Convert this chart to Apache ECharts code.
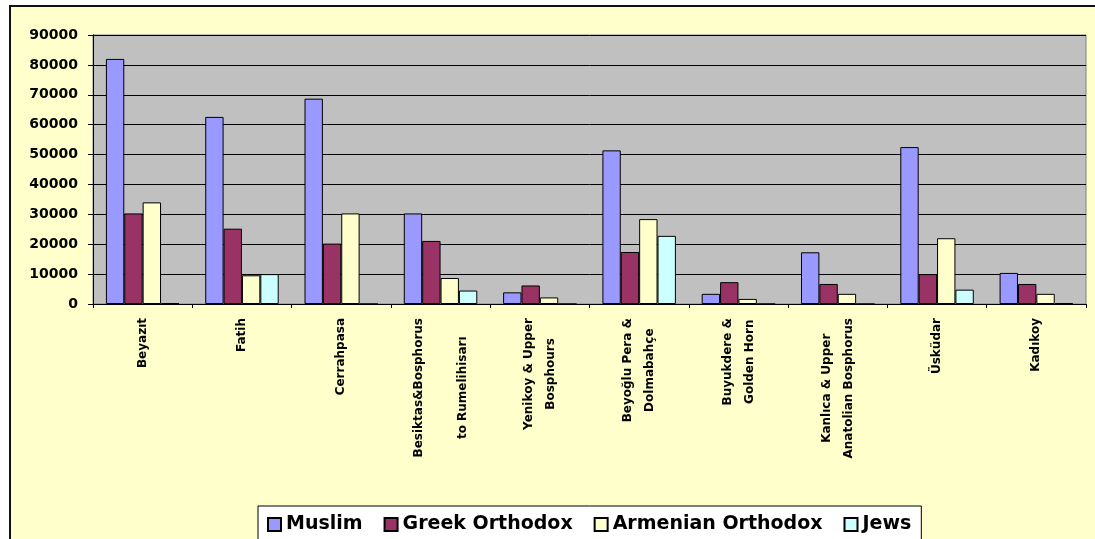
<!DOCTYPE html>
<html>
<head>
<meta charset="utf-8">
<script src="https://cdn.jsdelivr.net/npm/echarts@6/dist/echarts.min.js"></script>
<style>
  html, body { margin: 0; padding: 0; background: #ffffff; }
  #chart { width: 1095px; height: 539px; }
</style>
</head>
<body>
<div id="chart"></div>
<script>
const categories = [
  'Beyazıt',
  'Fatih',
  'Cerrahpasa',
  'Besiktas&Bosphorus\n \nto Rumelihisarı',
  'Yenikoy & Upper\nBosphours',
  'Beyoğlu Pera &\nDolmabahçe',
  'Buyukdere &\nGolden Horn',
  'Kanlıca & Upper\nAnatolian Bosphorus',
  'Üsküdar',
  'Kadıkoy'
];
const muslim   = [82000, 62600, 68700, 30300, 3900, 51400, 3400, 17300, 52500, 10400];
const greek    = [30300, 25200, 20200, 21100, 6200, 17400, 7300, 6700, 10000, 6700];
const armenian = [34000, 9600, 30300, 8700, 2200, 28400, 1700, 3400, 22000, 3400];
const jews     = [300, 10000, 0, 4500, 0, 22800, 0, 0, 4800, 300];
const seriesNames = ['Muslim', 'Greek Orthodox', 'Armenian Orthodox', 'Jews'];
const yTicks = { min: 0, max: 90000, interval: 10000 };

const FONT = '"DejaVu Sans", Verdana, sans-serif';
const colors = ['#9999FF', '#993366', '#FFFFCC', '#CCFFFF'];
const values = [muslim, greek, armenian, jews];

const chart = echarts.init(document.getElementById('chart'), null, { renderer: 'canvas' });
chart.setOption({
  animation: false,
  backgroundColor: '#ffffff',
  graphic: [{
    type: 'rect',
    z: -10,
    silent: true,
    shape: { x: 10, y: 6, width: 1100, height: 600 },
    style: { fill: '#FFFFCC', stroke: '#111111', lineWidth: 2 }
  }],
  grid: {
    left: 93, right: 9, top: 35, bottom: 235,
    show: true, backgroundColor: '#C0C0C0', borderColor: '#808080', borderWidth: 1
  },
  legend: {
    left: 258, top: 506,
    orient: 'horizontal',
    data: seriesNames,
    itemWidth: 13, itemHeight: 13, itemGap: 21,
    padding: [9, 10, 9, 9],
    backgroundColor: '#ffffff',
    borderColor: '#000000', borderWidth: 1,
    borderRadius: 0,
    icon: 'rect',
    textStyle: { fontFamily: FONT, fontWeight: 'bold', fontSize: 19, color: '#000' }
  },
  xAxis: {
    type: 'category',
    data: categories,
    boundaryGap: true,
    axisLine: { show: true, lineStyle: { color: '#000', width: 1 } },
    axisTick: { show: true, length: 4, alignWithLabel: false, lineStyle: { color: '#000' } },
    axisLabel: {
      interval: 0,
      rotate: 90,
      margin: 14,
      lineHeight: 22,
      fontFamily: FONT, fontWeight: 'bold', fontSize: 12, color: '#000',
      formatter: function (v) {
        return v.split('\n').map(function (s) { return '{c|' + s + '}'; }).join('\n');
      },
      rich: {
        c: { align: 'center', fontFamily: FONT, fontWeight: 'bold', fontSize: 12, color: '#000', lineHeight: 22 }
      }
    },
    splitLine: { show: false }
  },
  yAxis: {
    type: 'value',
    min: yTicks.min, max: yTicks.max, interval: yTicks.interval,
    axisLine: { show: true, lineStyle: { color: '#000', width: 1 } },
    axisTick: { show: true, length: 5, lineStyle: { color: '#000' } },
    axisLabel: {
      margin: 15,
      fontFamily: FONT, fontWeight: 'bold', fontSize: 14, color: '#000',
      formatter: function (v) { return String(v); }
    },
    splitLine: { show: true, lineStyle: { color: '#000', width: 1 } }
  },
  series: seriesNames.map(function (name, i) {
    return {
      name: name,
      type: 'bar',
      data: values[i],
      barGap: '0%',
      barCategoryGap: '26%',
      itemStyle: { color: colors[i], borderColor: '#000', borderWidth: 1 },
      emphasis: { disabled: true }
    };
  })
});
</script>
</body>
</html>
